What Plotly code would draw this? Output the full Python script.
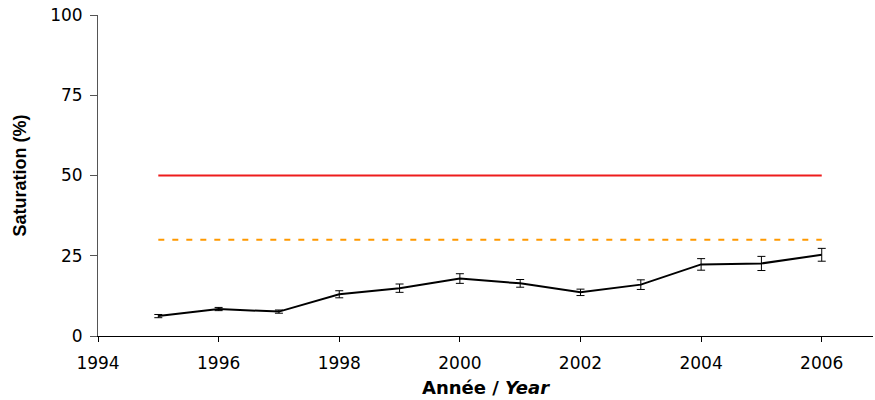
import plotly.graph_objects as go

years = [1995, 1996, 1997, 1998, 1999, 2000, 2001, 2002, 2003, 2004, 2005, 2006]
saturation = [6.2, 8.4, 7.6, 13.0, 14.9, 17.9, 16.4, 13.6, 16.0, 22.3, 22.6, 25.3]
saturation_err = [0.5, 0.5, 0.5, 1.1, 1.3, 1.5, 1.2, 1.0, 1.5, 1.8, 2.2, 2.0]

limit_years = [1995, 2006]
upper_limit = [50, 50]
lower_limit = [30, 30]

x_ticks = [1994, 1996, 1998, 2000, 2002, 2004, 2006]
y_ticks = [0, 25, 50, 75, 100]

fig = go.Figure()
fig.add_trace(go.Scatter(x=limit_years, y=upper_limit, mode="lines",
                         line=dict(color="#ee1c1c", width=2), showlegend=False))
fig.add_trace(go.Scatter(x=limit_years, y=lower_limit, mode="lines",
                         line=dict(color="#ff9900", width=2, dash="6px,8px"), showlegend=False))
fig.add_trace(go.Scatter(x=years, y=saturation, mode="lines",
                         line=dict(color="black", width=2),
                         error_y=dict(type="data", array=saturation_err, visible=True,
                                      color="black", thickness=1, width=4),
                         showlegend=False))

tick_font = dict(family="DejaVu Sans", size=17, color="black")
fig.update_layout(
    width=875, height=400,
    margin=dict(l=98, r=2, t=15, b=64),
    plot_bgcolor="white", paper_bgcolor="white",
    xaxis=dict(range=[1994, 2006.85], tickvals=x_ticks, tickfont=tick_font,
               showgrid=False, zeroline=False, showline=True, linecolor="black", linewidth=1,
               ticks="outside", ticklen=5, tickcolor="black", ticklabelstandoff=7,
               title=dict(text="<b>Année / </b><b><i>Year</i></b>",
                          font=dict(family="DejaVu Sans", size=18, color="black"), standoff=8)),
    yaxis=dict(range=[0, 100], tickvals=y_ticks, tickfont=tick_font,
               showgrid=False, zeroline=False, showline=True, linecolor="#555", linewidth=1,
               ticks="outside", ticklen=7, tickcolor="#555", ticklabelstandoff=4,
               title=dict(text="<b>Saturation (%)</b>",
                          font=dict(family="Liberation Sans, Arial, sans-serif", size=18, color="black"),
                          standoff=18)),
)

fig.write_html("out.html")
